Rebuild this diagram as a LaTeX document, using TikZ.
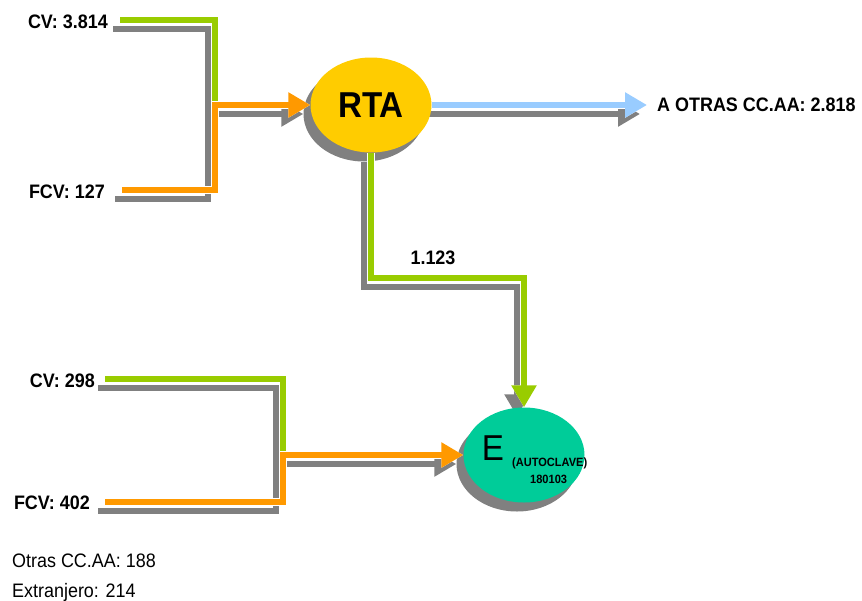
\documentclass[tikz,border=0pt]{standalone}
\usepackage{fontspec}
\setmainfont{Liberation Sans}[FakeStretch=0.92]
\usetikzlibrary{arrows.meta,shapes.geometric,shadows,backgrounds}
\definecolor{verde}{HTML}{99CC00}
\definecolor{naranja}{HTML}{FF9900}
\definecolor{azul}{HTML}{99CCFF}
\definecolor{amarillo}{HTML}{FFCC00}
\definecolor{turquesa}{HTML}{00CC99}
\definecolor{sombra}{HTML}{808080}
\tikzset{
  lbl/.style={font=\fontsize{19.5}{22}\selectfont\bfseries, inner sep=0pt},
  note/.style={font=\fontsize{19.5}{22}\selectfont, inner sep=0pt},
  flow/.style={line width=6pt, preaction={draw=white, line width=8pt}},
  shade/.style={draw=sombra, line width=6pt},
  headed/.style={-{Triangle[length=22pt,width=24pt]}},
  plant/.style={ellipse, minimum width=121pt, minimum height=95pt, inner sep=0pt,
    drop shadow={shadow xshift=-7pt, shadow yshift=-9pt, fill=sombra, opacity=1}}
}
\begin{document}
\begin{tikzpicture}[x=1pt, y=-1pt]
	\useasboundingbox (0,0) rectangle (862,600);

	% plantas
	\node[plant, fill=amarillo, font=\fontsize{36}{40}\selectfont\bfseries] (rta) at (371,105) {RTA};
	\node[plant, fill=turquesa] (e) at (524,455) {};
	\node[inner sep=0pt, font=\fontsize{36}{40}\selectfont] (etxt) at (493,448) {E};
	\node[inner sep=0pt, anchor=base west, font=\fontsize{12}{14}\selectfont\bfseries] (eauto) at (512,466) {(AUTOCLAVE)};
	\node[inner sep=0pt, anchor=base west, font=\fontsize{12}{14}\selectfont\bfseries] (ecode) at (530,483) {180103};

	% etiquetas
	\node[lbl, anchor=east] (cv1) at (108,22) {CV: 3.814};
	\node[lbl, anchor=east] (fcv1) at (105,192) {FCV: 127};
	\node[lbl, anchor=east] (cv2) at (95,381) {CV: 298};
	\node[lbl, anchor=east] (fcv2) at (90,503) {FCV: 402};
	\node[lbl, anchor=west] (otras) at (657,105) {A OTRAS CC.AA: 2.818};
	\node[lbl] (val) at (433,258) {1.123};
	\node[note, anchor=base west] (nota1) at (12,567) {Otras CC.AA: 188};
	\node[note, anchor=base west] (nota2) at (12,597) {Extranjero: 214};

	\coordinate (cv1s) at (120,20);
	\coordinate (fcv1s) at (122,190);
	\coordinate (j1) at (215,105);
	\coordinate (cv2s) at (105,379);
	\coordinate (fcv2s) at (105,502);
	\coordinate (j2) at (283,455);
	\coordinate (bend) at (371,278);
	\coordinate (otrasin) at (647,105);

	% sombras
	\begin{pgfonlayer}{background}
	\begin{scope}[transform canvas={shift={(-7,9)}}]
		\draw[shade] (cv1s) -| (j1);
		\draw[shade, headed] (fcv1s) -| (j1) -- (rta.west);
		\draw[shade, headed] (rta.east) -- (otrasin);
		\draw[shade, headed] (rta.south) -- (bend) -| (e.north);
		\draw[shade] (cv2s) -| (j2);
		\draw[shade, headed] (fcv2s) -| (j2) -- (e.west);
	\end{scope}
	\end{pgfonlayer}

	% flujos
	\draw[flow, verde] (cv1s) -| (j1);
	\draw[flow, naranja, headed] (fcv1s) -| (j1) -- (rta.west);
	\draw[flow, azul, headed] (rta.east) -- (otrasin);
	\draw[flow, verde, headed] (rta.south) -- (bend) -| (e.north);
	\draw[flow, verde] (cv2s) -| (j2);
	\draw[flow, naranja, headed] (fcv2s) -| (j2) -- (e.west);
\end{tikzpicture}
\end{document}
